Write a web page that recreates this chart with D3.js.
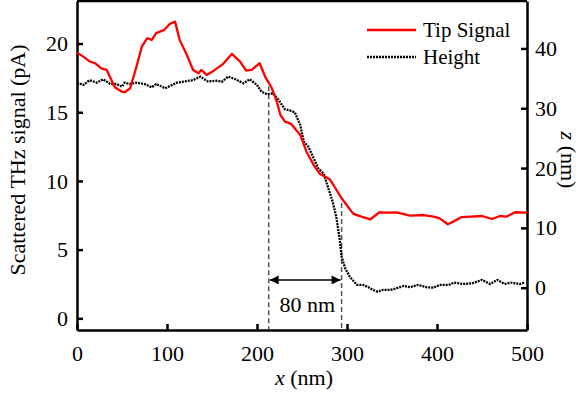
<!DOCTYPE html>
<html>
<head>
<meta charset="utf-8">
<script src="https://cdn.jsdelivr.net/npm/d3@7"></script>
<style>
  body { margin: 0; background: #fff; }
  svg { display: block; }
  svg text { font-family: "Liberation Serif", serif; }
</style>
</head>
<body>
<script>
// tip signal (pA) vs x (nm)
const tipX = [0, 7, 14, 20, 27, 33, 42, 50, 53, 59, 66, 72, 78, 83, 88, 97, 103, 109, 114, 122, 129, 135, 138, 144, 152, 162, 172, 181, 188, 194, 203, 209, 216, 222, 226, 231, 238, 248, 255, 264, 270, 281, 294, 307, 316, 326, 336, 344, 355, 370, 385, 396, 403, 412, 418, 427, 438, 450, 461, 470, 477, 487, 500];
const tipY = [19.34, 19.05, 18.7, 18.57, 18.2, 18.08, 16.82, 16.5, 16.46, 16.75, 18.3, 19.78, 20.39, 20.27, 20.76, 21.0, 21.43, 21.6, 20.27, 19.18, 18.08, 17.84, 18.08, 17.72, 18.03, 18.5, 19.25, 18.7, 18.03, 18.08, 18.57, 17.6, 16.82, 15.78, 14.8, 14.32, 14.15, 13.35, 12.13, 11.04, 10.5, 10.12, 8.74, 7.6, 7.4, 7.21, 7.72, 7.69, 7.72, 7.47, 7.52, 7.4, 7.28, 6.85, 7.04, 7.36, 7.4, 7.45, 7.23, 7.45, 7.4, 7.72, 7.69];

// height z (nm) vs x (nm)
const heightX = [0, 7, 14, 22, 29, 37, 44, 50, 53, 59, 66, 75, 83, 88, 98, 103, 111, 120, 129, 137, 145, 155, 161, 168, 176, 185, 192, 200, 205, 211, 218, 224, 231, 237, 242, 248, 252, 257, 263, 268, 274, 281, 284, 288, 292, 294, 298, 303, 311, 318, 324, 329, 334, 340, 348, 355, 363, 370, 379, 389, 396, 403, 413, 419, 429, 439, 450, 459, 467, 475, 482, 492, 497];
const heightZ = [34.28, 33.9, 34.7, 34.28, 34.85, 34.06, 34.06, 33.6, 34.28, 34.06, 34.28, 34.06, 33.5, 34.06, 33.34, 33.7, 34.28, 34.5, 34.7, 35.3, 34.5, 34.6, 34.45, 35.3, 34.85, 34.18, 34.85, 33.9, 32.78, 32.34, 32.5, 31.4, 29.83, 29.6, 29.33, 27.2, 24.4, 23.58, 21.64, 19.97, 19.1, 15.8, 14.4, 11.9, 7.98, 5.2, 3.24, 1.84, 0.45, 0.45, 0.07, -0.38, -0.67, -0.38, -0.38, -0.1, 0.28, 0.07, 0.45, 0.07, 0, 0.45, 0.45, 0.84, 0.62, 0.73, 1.29, 0.62, 1.29, 0.62, 0.84, 0.62, 0.84];

const xTicks = [0, 100, 200, 300, 400, 500];
const leftTicks = [0, 5, 10, 15, 20];
const rightTicks = [0, 10, 20, 30, 40];

const legendLabels = ["Tip Signal", "Height"];

// marker lines: step edges and the 80 nm width
const edgeX = [213, 294];
const edgeTop = [16.9, 8.4];
const widthLabel = "80 nm";

const W = 584, H = 398;
const margin = { top: 1, right: 57, bottom: 68, left: 77 };
const serif = "'Liberation Serif', serif";

const svg = d3.select("body").append("svg")
  .attr("width", W)
  .attr("height", H)
  .style("font-family", serif);

const x = d3.scaleLinear().domain([0, 500]).range([margin.left, W - margin.right]);
const yL = d3.scaleLinear().domain([-0.85, 23.1]).range([H - margin.bottom, margin.top]);
const yR = d3.scaleLinear().domain([-7.08, 47.94]).range([H - margin.bottom, margin.top]);

const fontSize = 22;

// frame top line
svg.append("line")
  .attr("x1", margin.left).attr("x2", W - margin.right)
  .attr("y1", margin.top).attr("y2", margin.top)
  .attr("stroke", "#000").attr("stroke-width", 2.5);

function styleAxis(g) {
  g.attr("font-family", "Liberation Serif");
  g.select(".domain").attr("stroke-width", 2.5);
  g.selectAll(".tick line").attr("stroke-width", 2.5);
  g.selectAll(".tick text")
    .attr("font-size", fontSize)
    .attr("font-family", "Liberation Serif")
    .attr("fill", "#000");
}

svg.append("g")
  .attr("transform", `translate(0,${H - margin.bottom})`)
  .call(d3.axisBottom(x).tickValues(xTicks).tickSize(-6).tickSizeOuter(0).tickPadding(15))
  .call(styleAxis);

svg.append("g")
  .attr("transform", `translate(${margin.left},0)`)
  .call(d3.axisLeft(yL).tickValues(leftTicks).tickSize(-6).tickSizeOuter(0).tickPadding(9))
  .call(styleAxis);

svg.append("g")
  .attr("transform", `translate(${W - margin.right},0)`)
  .call(d3.axisRight(yR).tickValues(rightTicks).tickSize(-6).tickSizeOuter(0).tickPadding(8))
  .call(styleAxis);

// dashed step markers
svg.append("g").selectAll("line")
  .data(edgeX)
  .join("line")
  .attr("x1", d => x(d)).attr("x2", d => x(d))
  .attr("y1", (d, i) => yL(edgeTop[i]))
  .attr("y2", H - margin.bottom)
  .attr("stroke", "#555")
  .attr("stroke-width", 1.5)
  .attr("stroke-dasharray", "5,3");

// double arrow for width
const defs = svg.append("defs");
defs.append("marker")
  .attr("id", "ah")
  .attr("viewBox", "0 0 10 10")
  .attr("refX", 10).attr("refY", 5)
  .attr("markerWidth", 12).attr("markerHeight", 9)
  .attr("markerUnits", "userSpaceOnUse")
  .attr("orient", "auto-start-reverse")
  .append("path")
  .attr("d", "M0,0 L10,5 L0,10 z")
  .attr("fill", "#000");

const arrowY = yL(2.79);
svg.append("line")
  .attr("x1", x(edgeX[0]) + 1).attr("x2", x(edgeX[1]) - 1)
  .attr("y1", arrowY).attr("y2", arrowY)
  .attr("stroke", "#000").attr("stroke-width", 1.3)
  .attr("marker-start", "url(#ah)")
  .attr("marker-end", "url(#ah)");

svg.append("text")
  .attr("x", x(256)).attr("y", yL(0.46))
  .attr("text-anchor", "middle")
  .attr("font-size", fontSize)
  .attr("font-family", "Liberation Serif")
  .text(widthLabel);

// height (dotted black)
const heightLine = d3.line()
  .x((d, i) => x(heightX[i]))
  .y(d => yR(d));

svg.append("path")
  .datum(heightZ)
  .attr("fill", "none")
  .attr("stroke", "#000")
  .attr("stroke-width", 2.3)
  .attr("stroke-dasharray", "2,1")
  .attr("d", heightLine);

// tip signal (red)
const tipLine = d3.line()
  .x((d, i) => x(tipX[i]))
  .y(d => yL(d));

svg.append("path")
  .datum(tipY)
  .attr("fill", "none")
  .attr("stroke", "#ff0000")
  .attr("stroke-width", 2.3)
  .attr("stroke-linejoin", "round")
  .attr("d", tipLine);

// legend
const legend = svg.append("g").attr("transform", "translate(367,30)");
legend.selectAll("line")
  .data(legendLabels)
  .join("line")
  .attr("x1", 0).attr("x2", 49)
  .attr("y1", (d, i) => i * 27).attr("y2", (d, i) => i * 27)
  .attr("stroke", (d, i) => i ? "#000" : "#ff0000")
  .attr("stroke-width", 2.3)
  .attr("stroke-dasharray", (d, i) => i ? "2,1" : null);
legend.selectAll("text")
  .data(legendLabels)
  .join("text")
  .attr("x", 56)
  .attr("y", (d, i) => i * 27 + 7)
  .attr("font-size", 21)
  .attr("font-family", "Liberation Serif")
  .text(d => d);

// axis titles
svg.append("text")
  .attr("transform", `translate(25,${160}) rotate(-90)`)
  .attr("text-anchor", "middle")
  .attr("font-size", fontSize)
  .attr("font-family", "Liberation Serif")
  .text("Scattered THz signal (pA)");

const rt = svg.append("text")
  .attr("transform", `translate(561,${160}) rotate(90)`)
  .attr("text-anchor", "middle")
  .attr("font-size", fontSize)
  .attr("font-family", "Liberation Serif");
rt.append("tspan").attr("font-style", "italic").text("z");
rt.append("tspan").text(" (nm)");

const bt = svg.append("text")
  .attr("x", 304).attr("y", 385)
  .attr("text-anchor", "middle")
  .attr("font-size", fontSize)
  .attr("font-family", "Liberation Serif");
bt.append("tspan").attr("font-style", "italic").text("x");
bt.append("tspan").text(" (nm)");
</script>
</body>
</html>
